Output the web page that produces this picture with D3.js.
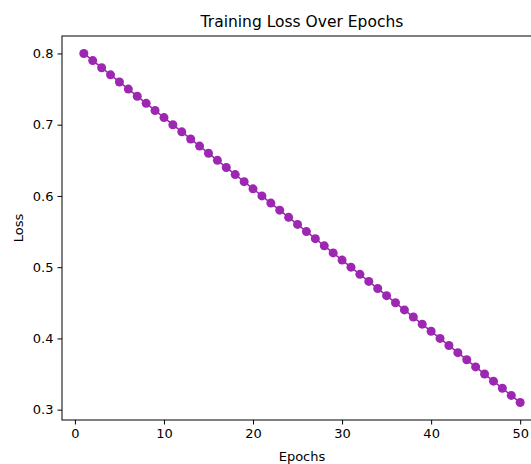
<!DOCTYPE html>
<html>
<head>
<meta charset="utf-8">
<script src="https://cdn.jsdelivr.net/npm/d3@7"></script>
<style>
	body { margin: 0; background: #fff; }
	svg { display: block; font-family: "DejaVu Sans", sans-serif; }
	.axis path, .axis line { stroke: #000; }
	.axis text { fill: #000; font-size: 13px; font-family: "DejaVu Sans", sans-serif; }
</style>
</head>
<body>
<div id="chart"></div>
<script>
var epochs = [1, 2, 3, 4, 5, 6, 7, 8, 9, 10,
	11, 12, 13, 14, 15, 16, 17, 18, 19, 20,
	21, 22, 23, 24, 25, 26, 27, 28, 29, 30,
	31, 32, 33, 34, 35, 36, 37, 38, 39, 40,
	41, 42, 43, 44, 45, 46, 47, 48, 49, 50];

var loss = [0.80, 0.79, 0.78, 0.77, 0.76, 0.75, 0.74, 0.73, 0.72, 0.71,
	0.70, 0.69, 0.68, 0.67, 0.66, 0.65, 0.64, 0.63, 0.62, 0.61,
	0.60, 0.59, 0.58, 0.57, 0.56, 0.55, 0.54, 0.53, 0.52, 0.51,
	0.50, 0.49, 0.48, 0.47, 0.46, 0.45, 0.44, 0.43, 0.42, 0.41,
	0.40, 0.39, 0.38, 0.37, 0.36, 0.35, 0.34, 0.33, 0.32, 0.31];

var xTicks = [0, 10, 20, 30, 40, 50];
var yTicks = [0.3, 0.4, 0.5, 0.6, 0.7, 0.8];

var WIDTH = 531,
	HEIGHT = 464,
	LEFT = 62,
	RIGHT = 542,
	TOP = 36,
	BOTTOM = 420,
	COLOR = "#9c27b0";

var data = epochs.map(function(e, i) { return {epoch: e, loss: loss[i]}; });

// matplotlib-style 5% margins
var xPad = (d3.max(epochs) - d3.min(epochs)) * 0.05,
	yPad = (d3.max(loss) - d3.min(loss)) * 0.05;

var x = d3.scaleLinear()
	.domain([d3.min(epochs) - xPad, d3.max(epochs) + xPad])
	.range([LEFT, RIGHT]);

var y = d3.scaleLinear()
	.domain([d3.min(loss) - yPad, d3.max(loss) + yPad])
	.range([BOTTOM, TOP]);

var svg = d3.select("#chart")
	.append("svg")
		.attr("width", WIDTH)
		.attr("height", HEIGHT);

// spines
svg.append("rect")
	.attr("x", LEFT)
	.attr("y", TOP)
	.attr("width", RIGHT - LEFT)
	.attr("height", BOTTOM - TOP)
	.attr("fill", "none")
	.attr("stroke", "#000")
	.attr("stroke-width", 1);

svg.append("g")
	.attr("class", "axis")
	.attr("transform", "translate(0," + BOTTOM + ")")
	.call(d3.axisBottom(x).tickValues(xTicks).tickSize(4.5).tickPadding(4).tickSizeOuter(0))
	.call(function(g) { g.select(".domain").remove(); });

svg.append("g")
	.attr("class", "axis")
	.attr("transform", "translate(" + LEFT + ",0)")
	.call(d3.axisLeft(y).tickValues(yTicks).tickFormat(d3.format(".1f")).tickSize(4.5).tickPadding(4).tickSizeOuter(0))
	.call(function(g) { g.select(".domain").remove(); });

var line = d3.line()
	.x(function(d) { return x(d.epoch); })
	.y(function(d) { return y(d.loss); });

svg.append("path")
	.datum(data)
	.attr("d", line)
	.attr("fill", "none")
	.attr("stroke", COLOR)
	.attr("stroke-width", 1.5);

svg.selectAll("circle.pt")
	.data(data)
	.enter()
	.append("circle")
		.attr("class", "pt")
		.attr("cx", function(d) { return x(d.epoch); })
		.attr("cy", function(d) { return y(d.loss); })
		.attr("r", 4.5)
		.attr("fill", COLOR);

svg.append("text")
	.attr("x", (LEFT + RIGHT) / 2)
	.attr("y", TOP - 9)
	.attr("text-anchor", "middle")
	.attr("font-size", 15.5)
	.attr("fill", "#000")
	.text("Training Loss Over Epochs");

svg.append("text")
	.attr("x", (LEFT + RIGHT) / 2)
	.attr("y", 461)
	.attr("text-anchor", "middle")
	.attr("font-size", 13)
	.attr("fill", "#000")
	.text("Epochs");

svg.append("text")
	.attr("transform", "translate(23," + ((TOP + BOTTOM) / 2) + ") rotate(-90)")
	.attr("text-anchor", "middle")
	.attr("font-size", 13)
	.attr("fill", "#000")
	.text("Loss");
</script>
</body>
</html>
